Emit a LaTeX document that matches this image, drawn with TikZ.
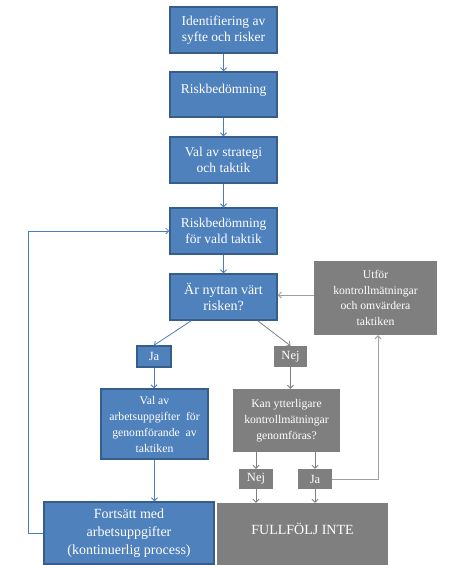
\documentclass[tikz,border=0pt]{standalone}
\usepackage{fontspec}
\setmainfont{Liberation Serif}
\usetikzlibrary{arrows.meta,calc}
\definecolor{bfill}{HTML}{4F81BD}
\definecolor{bdraw}{HTML}{385D8A}
\definecolor{gfill}{HTML}{7F7F7F}
\definecolor{bline}{HTML}{4A7EBB}
\definecolor{gline}{HTML}{7F7F7F}
\definecolor{lline}{HTML}{A0A0A0}
\tikzset{
  bbox/.style={draw=bdraw, line width=1.5pt, fill=bfill, text=white, align=center, inner sep=0pt, font=\fontsize{13.5}{16}\selectfont},
  gbox/.style={fill=gfill, text=white, align=center, inner sep=0pt, font=\fontsize{11.7}{16}\selectfont},
  barrow/.style={draw=bline, line width=0.8pt, -{Straight Barb[length=3pt,width=6pt]}},
  garrow/.style={draw=gline, line width=0.8pt, -{Straight Barb[length=3pt,width=6pt]}},
  larrow/.style={draw=lline, line width=1pt, -{Straight Barb[length=3pt,width=6pt]}},
  sz/.style 2 args={minimum width=#1pt, minimum height=#2pt},
}
\begin{document}
\begin{tikzpicture}[x=1pt,y=-1pt]
\useasboundingbox (0,0) rectangle (465,565);
\node[bbox, sz={107}{46}] (b1) at (223.5,30) {Identifiering av\\syfte och risker};
\node[bbox, sz={107}{45}] (b2) at (223.5,94.5) {Riskbedömning\\[-5pt]\mbox{}};
\node[bbox, sz={107}{46}] (b3) at (223.5,160) {Val av strategi\\och taktik};
\node[bbox, sz={107}{46}] (b4) at (223.5,231) {Riskbedömning\\för vald taktik};
\node[bbox, sz={107}{46}, font=\fontsize{14}{16.5}\selectfont] (b5) at (223.5,297) {Är nyttan värt\\risken?};
\node[gbox, sz={123}{74}, font=\fontsize{11.7}{15.5}\selectfont] (utf) at (375.5,298) {Utför\\kontrollmätningar\\och omvärdera\\taktiken};
\node[bbox, sz={34}{21}, font=\fontsize{12.5}{14}\selectfont] (ja) at (154,356.5) {Ja};
\node[gbox, sz={33}{21}, font=\fontsize{12.5}{14}\selectfont] (nej) at (290.5,356.5) {Nej};
\node[bbox, sz={107}{70}, font=\fontsize{11.7}{16}\selectfont] (val) at (154.5,424) {Val av\\arbetsuppgifter\ \ för\\genomförande\ \ av\\taktiken};
\node[gbox, sz={107}{63}] (kan) at (286.5,420.5) {Kan ytterligare\\kontrollmätningar\\genomföras?};
\node[gbox, sz={34}{20}, font=\fontsize{12.5}{14}\selectfont] (nej2) at (256,479) {Nej};
\node[gbox, sz={34}{20}, font=\fontsize{12.5}{14}\selectfont] (ja2) at (315,479) {Ja};
\node[bbox, sz={170}{62}, font=\fontsize{14}{18}\selectfont] (fort) at (129,533) {Fortsätt med\\arbetsuppgifter\\(kontinuerlig process)};
\node[gbox, sz={171}{62}, font=\fontsize{14}{16}\selectfont] (full) at (302.5,534) {FULLFÖLJ INTE\\[-6pt]\mbox{}};
% connectors
\draw[barrow] (b1) -- (b2);
\draw[barrow] (b2) -- (b3);
\draw[barrow] (b3) -- (b4);
\draw[barrow] (b4) -- (b5);
\draw[barrow] ($(b5.south west)+(22,0)$) -- (ja.north);
\draw[garrow] ($(b5.south east)+(-20,0)$) -- (nej.north);
\draw[barrow] (ja) -- (ja.south |- val.north);
\draw[barrow] (val.south) -- (val.south |- fort.north);
\draw[garrow] (nej.south) -- (nej.south |- kan.north);
\draw[garrow] (nej2.north |- kan.south) -- (nej2.north);
\draw[garrow] (ja2.north |- kan.south) -- (ja2.north);
\draw[garrow] (nej2.south) -- (nej2.south |- full.north);
\draw[garrow] (ja2.south) -- (ja2.south |- full.north);
\draw[larrow] (ja2.east) -| ($(utf.south)+(2.5,0)$);
\draw[larrow] ($(utf.west)+(0,-3)$) -- ($(b5.east)+(0,-2)$);
\draw[barrow] (fort.west) -- ++(-15,0) |- (b4.west);
\end{tikzpicture}
\end{document}
